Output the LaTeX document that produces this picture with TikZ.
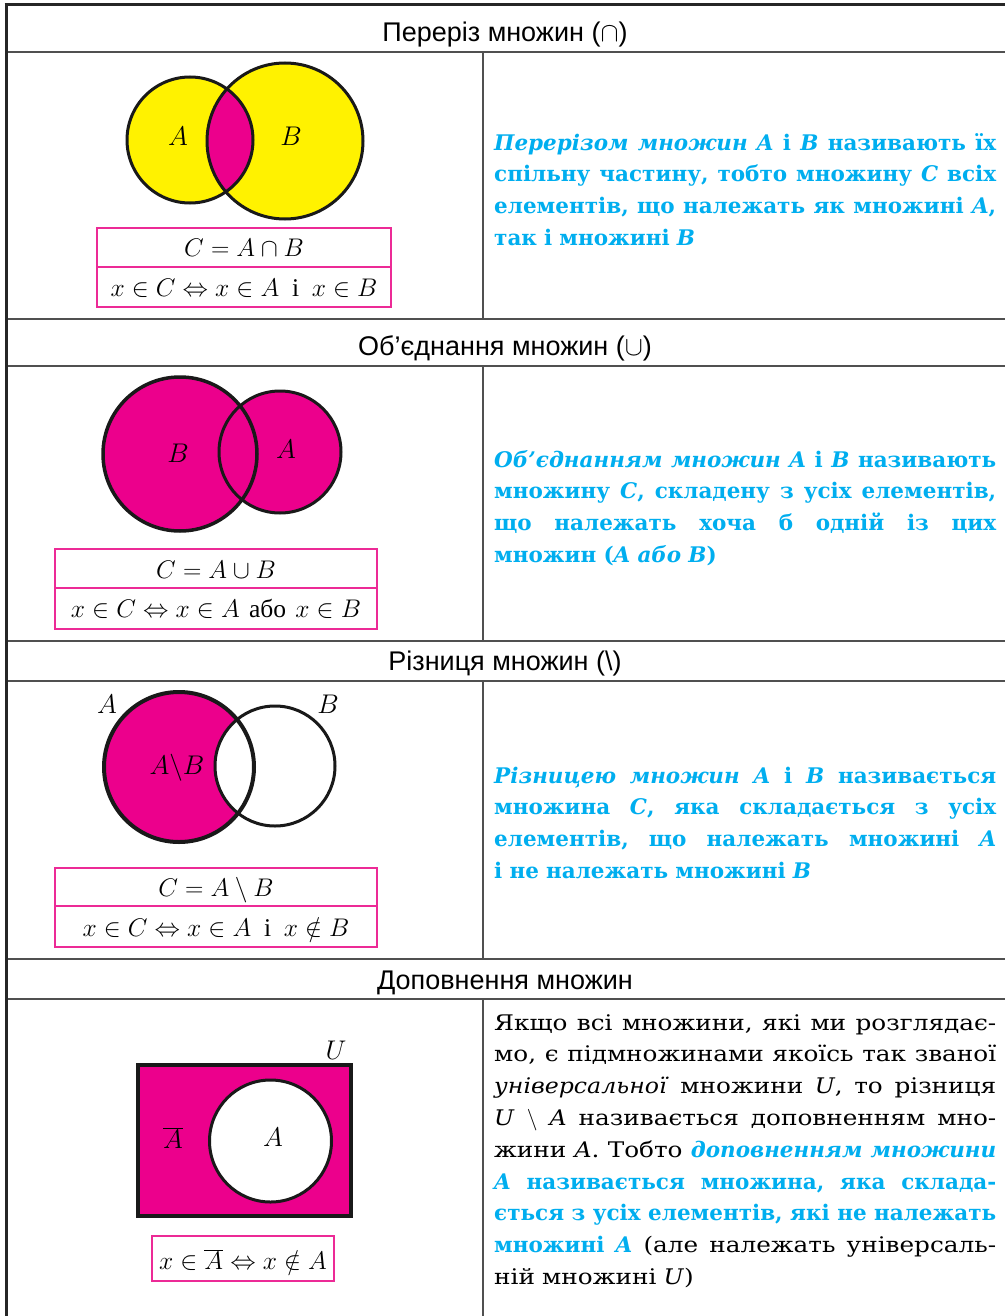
\RequirePackage{fix-cm}
\documentclass[tikz,border=0pt]{standalone}
\usepackage{fontspec}
\setmainfont{DejaVu Serif}[UprightFeatures={FakeStretch=1.15}, ItalicFeatures={FakeStretch=1.1}]
\setsansfont{Liberation Sans}
\newfontfamily\fw{Liberation Serif}
\definecolor{mag}{HTML}{EC008C}
\definecolor{yel}{HTML}{FFF200}
\definecolor{cyanb}{HTML}{00AEEF}
\definecolor{rulec}{HTML}{505050}
\definecolor{boxc}{HTML}{EC2A96}
\newcommand\jl[1]{\makebox[502pt][s]{\frenchspacing\spaceskip=0.3em plus 1fill\relax\xspaceskip=\spaceskip\strut #1}\\}
\newcommand\bl{\color{cyanb}\bfseries}
\tikzset{
 hdr/.style={font=\sffamily\fontsize{27}{30}\selectfont, anchor=base, inner sep=0pt},
 lbl/.style={font=\fontsize{27}{30}\selectfont, anchor=base, inner sep=0pt},
 frm/.style={font=\fontsize{25.5}{30}\selectfont, anchor=base, inner sep=0pt},
 para/.style={anchor=north west, inner sep=0pt, text width=502pt, align=left, font=\fontsize{21.5}{31.8}\selectfont},
 hline/.style={draw=rulec, line width=2pt},
 vline/.style={draw=rulec, line width=1.8pt},
 fbox/.style={draw=boxc, line width=1.5pt},
 venn/.style={draw=black!90, line width=3pt},
}
\begin{document}
\begin{tikzpicture}[x=1pt,y=-1pt]
\useasboundingbox (0,0) rectangle (1005,1316);
\fill[white] (0,0) rectangle (1005,1316);

% ---------- table rules ----------
\foreach \yy in {52,318.5,366,640.5,681,958.5,999}{\draw[hline] (5,\yy) -- (1005,\yy);}
\draw[vline] (483,52) -- (483,318.5);
\draw[vline] (483,366) -- (483,640.5);
\draw[vline] (483,681) -- (483,958.5);
\draw[vline] (483,999) -- (483,1316);
\draw[line width=3pt, black!85] (4.5,5) -- (1005,5);
\draw[line width=3pt, black!85] (6,3.5) -- (6,1316);

% ---------- headers ----------
\node[hdr] (h1) at (505,41.7) {Переріз множин ($\cap$)};
\node[hdr] (h2) at (505,355) {Об’єднання множин ($\cup$)};
\node[hdr] (h3) at (505,670) {Різниця множин (\textbackslash)};
\node[hdr] (h4) at (505,989) {Доповнення множин};

% ---------- row 1: intersection ----------
\fill[yel] (190,140) circle (63pt);
\fill[yel] (285,141) circle (78pt);
\begin{scope}
 \clip (190,140) circle (63pt);
 \fill[mag] (285,141) circle (78pt);
\end{scope}
\draw[venn] (190,140) circle (63pt);
\draw[venn] (285,141) circle (78pt);
\node[lbl] (a1) at (178,145.5) {$A$};
\node[lbl] (b1) at (291,145.5) {$B$};
\draw[fbox] (97,228) rectangle (391,307);
\draw[fbox] (97,267) -- (391,267);
\node[frm] (f1a) at (244,256.5) {$C = A\cap B$};
\node[frm] (f1b) at (244,296) {$x\in C\Leftrightarrow x\in A$\enskip{\fw і}\enskip $x\in B$};

% ---------- row 2: union ----------
\fill[mag] (180,454) circle (77pt);
\fill[mag] (280,452) circle (61pt);
\draw[venn, line width=3.5pt] (180,454) circle (77pt);
\draw[venn] (280,452) circle (61pt);
\node[lbl] (b2) at (178,462.5) {$B$};
\node[lbl] (a2) at (286,458) {$A$};
\draw[fbox] (55,549) rectangle (377,629);
\draw[fbox] (55,588) -- (377,588);
\node[frm] (f2a) at (216,578) {$C = A\cup B$};
\node[frm] (f2b) at (216,617.5) {$x\in C\Leftrightarrow x\in A$ {\fw або} $x\in B$};

% ---------- row 3: difference ----------
\fill[mag] (179,767) circle (75pt);
\fill[white] (275,766) circle (60pt);
\draw[venn, line width=4pt] (179,767) circle (75pt);
\draw[venn] (275,766) circle (60pt);
\node[lbl] (a3) at (107,713) {$A$};
\node[lbl] (b3) at (328,713) {$B$};
\node[lbl] (ab3) at (177,774) {$A\backslash B$};
\draw[fbox] (55,868) rectangle (377,947);
\draw[fbox] (55,906) -- (377,906);
\node[frm] (f3a) at (216,896) {$C = A\setminus B$};
\node[frm] (f3b) at (216,936.5) {$x\in C\Leftrightarrow x\in A$\enskip{\fw і}\enskip $x\notin B$};

% ---------- row 4: complement ----------
\fill[mag] (138,1065) rectangle (351,1216);
\draw[venn, line width=3.5pt] (138,1065) rectangle (351,1216);
\fill[white] (270.5,1141) circle (61pt);
\draw[venn] (270.5,1141) circle (61pt);
\node[lbl] (u4) at (336,1059) {$U$};
\node[lbl] (ac4) at (173,1148) {$\overline{A}$};
\node[lbl] (a4) at (273,1146) {$A$};
\draw[fbox] (152,1236) rectangle (334,1281);
\node[frm] (f4) at (243,1269) {$x\in\overline{A}\Leftrightarrow x\notin A$};

% ---------- right column texts ----------
\node[para, text=cyanb, font=\fontsize{21.5}{31.8}\selectfont\bfseries] (t1) at (494,127.7) {%
\jl{{\itshape Перерізом множин A} і \textit{B} називають їх}
\jl{спільну частину, тобто множину \textit{C} всіх}
\jl{елементів, що належать як множині \textit{A},}
\strut так і множині \textit{B}};

\node[para, text=cyanb, font=\fontsize{21.5}{31.8}\selectfont\bfseries] (t2) at (494,444.7) {%
\jl{{\itshape Об’єднанням множин A} і \textit{B} називають}
\jl{множину \textit{C}, складену з усіх елементів,}
\jl{що належать хоча б одній із цих}
\strut множин (\textit{A або B})};

\node[para, text=cyanb, font=\fontsize{21.5}{31.8}\selectfont\bfseries] (t3) at (494,760.7) {%
\jl{{\itshape Різницею множин A} і \textit{B} називається}
\jl{множина \textit{C}, яка складається з усіх}
\jl{елементів, що належать множині \textit{A}}
\strut і не належать множині \textit{B}};

\node[para] (t4) at (494,1007.7) {%
\jl{Якщо всі множини, які ми розглядає-}
\jl{мо, є підмножинами якоїсь так званої}
\jl{\textit{універсальної} множини \textit{U}, то різниця}
\jl{\textit{U} $\setminus$ \textit{A} називається доповненням мно-}
\jl{жини \textit{A}. Тобто {\bl\itshape доповненням множини}}
\jl{{\bl\textit{A} називається множина, яка склада-}}
\jl{{\bl ється з усіх елементів, які не належать}}
\jl{{\bl множині \textit{A}} (але належать універсаль-}
\strut ній множині \textit{U})};
\end{tikzpicture}
\end{document}
